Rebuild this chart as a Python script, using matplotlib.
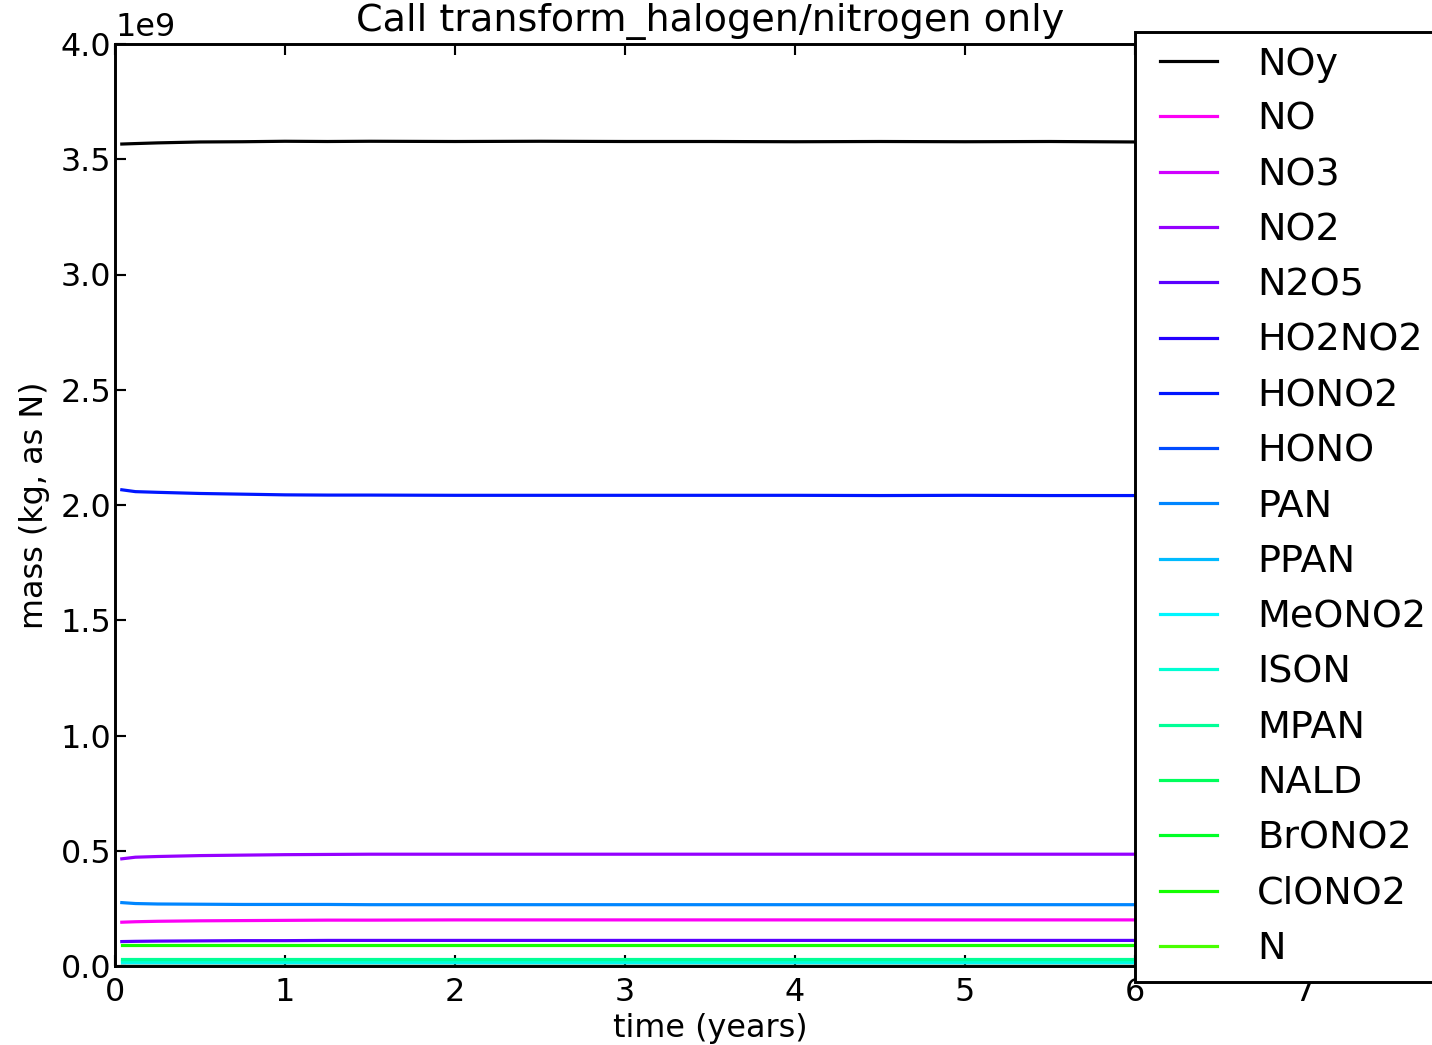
import numpy as np
from matplotlib import pyplot as plt
from matplotlib import cm
from matplotlib.legend_handler import HandlerLine2D

# time axis (years)
time = [0.04, 0.12, 0.25, 0.5, 0.75, 1.0, 1.25, 1.5, 2.0, 2.5, 3.0,
        3.5, 4.0, 4.5, 5.0, 5.5, 6.0, 6.5, 7.0]

# masses in units of 1e9 kg (as N)
noy = [3.566, 3.568, 3.571, 3.575, 3.576, 3.578, 3.577, 3.578, 3.577, 3.578, 3.577,
       3.577, 3.576, 3.577, 3.576, 3.577, 3.575, 3.575, 3.576]
no = [0.190, 0.192, 0.194, 0.196, 0.197, 0.198, 0.199, 0.199, 0.200, 0.200, 0.200,
      0.200, 0.200, 0.200, 0.200, 0.200, 0.200, 0.200, 0.200]
no3 = [0.002] * 19
no2 = [0.465, 0.472, 0.475, 0.479, 0.481, 0.483, 0.484, 0.485, 0.485, 0.485, 0.485,
       0.485, 0.485, 0.485, 0.485, 0.485, 0.485, 0.485, 0.485]
n2o5 = [0.106, 0.107, 0.108, 0.109, 0.110, 0.110, 0.111, 0.111, 0.111, 0.111, 0.111,
        0.111, 0.111, 0.111, 0.111, 0.111, 0.111, 0.111, 0.111]
ho2no2 = [0.002] * 19
hono2 = [2.066, 2.058, 2.055, 2.050, 2.047, 2.044, 2.043, 2.043, 2.042, 2.042, 2.042,
         2.042, 2.042, 2.041, 2.042, 2.041, 2.041, 2.041, 2.041]
hono = [0.001] * 19
pan = [0.275, 0.271, 0.269, 0.268, 0.267, 0.267, 0.267, 0.266, 0.266, 0.266, 0.266,
       0.266, 0.266, 0.266, 0.266, 0.266, 0.266, 0.266, 0.266]
ppan = [0.002] * 19
meono2 = [0.016] * 19
ison = [0.022] * 19
mpan = [0.029] * 19
nald = [0.002] * 19
brono2 = [0.002] * 19
clono2 = [0.093] * 19
n = [0.0005] * 19

names = ['NOy', 'NO', 'NO3', 'NO2', 'N2O5', 'HO2NO2', 'HONO2', 'HONO', 'PAN', 'PPAN',
         'MeONO2', 'ISON', 'MPAN', 'NALD', 'BrONO2', 'ClONO2', 'N']
series = [noy, no, no3, no2, n2o5, ho2no2, hono2, hono, pan, ppan,
          meono2, ison, mpan, nald, brono2, clono2, n]

plt.rcParams['font.size'] = 12
plt.rcParams['lines.linewidth'] = 1.2
plt.rcParams['axes.linewidth'] = 1.1
plt.rcParams['xtick.direction'] = 'in'
plt.rcParams['ytick.direction'] = 'in'
plt.rcParams['xtick.major.size'] = 4
plt.rcParams['ytick.major.size'] = 4
plt.rcParams['xtick.major.pad'] = 4
plt.rcParams['ytick.major.pad'] = 1.5

fig = plt.figure(figsize=(1432 / 191, 1045 / 191), dpi=191)
ax = fig.add_axes([115 / 1432, 79 / 1045, 1190 / 1432, 922 / 1045])

colors = ['k'] + [cm.hsv(h) for h in np.linspace(0.85, 0.29, 16)]
for name, vals, c in zip(names, series, colors):
    ax.plot(time, np.array(vals) * 1e9, color=c, label=name)

ax.set_xlim(0, 7)
ax.set_ylim(0, 4e9)
ax.set_yticks(np.arange(0, 4.01e9, 0.5e9))
ax.tick_params(top=True, right=True)
ax.set_xlabel('time (years)', labelpad=2)
ax.set_ylabel('mass (kg, as N)')
ax.set_title('Call transform_halogen/nitrogen only', fontsize='large', pad=5)

# indent the legend handles a little, like the old-style legend
leg = ax.legend(loc='upper left', bbox_to_anchor=(1135 / 1432, 1 - 32 / 1045),
                bbox_transform=fig.transFigure, borderaxespad=0, fontsize='large',
                fancybox=False, framealpha=1, handlelength=1.76, handletextpad=1.05,
                labelspacing=0.505, borderpad=0.38,
                handler_map={plt.Line2D: HandlerLine2D(xpad=0.27)})
leg.get_frame().set_edgecolor('k')
leg.get_frame().set_linewidth(1.1)

fig.savefig('out.png', dpi=191)
